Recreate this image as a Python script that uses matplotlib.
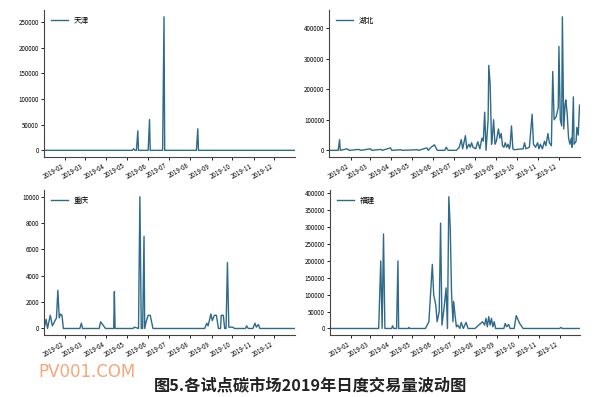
import numpy as np
import pandas as pd
import matplotlib
matplotlib.use('Agg')
import matplotlib.dates as mdates
from matplotlib import pyplot as plt

plt.rcParams['font.family'] = ['Noto Sans CJK SC', 'DejaVu Sans']

# daily volume, key points (zero between them)
tj_dates = ['2019-01-01', '2019-05-09', '2019-05-11', '2019-05-13', '2019-05-15', '2019-05-17',
            '2019-05-18', '2019-06-01', '2019-06-03', '2019-06-04', '2019-06-22', '2019-06-24',
            '2019-06-25', '2019-08-10', '2019-08-12', '2019-08-13', '2019-12-31']
tj_vals = [0, 0, 3000, 0, 0, 38000, 0, 0, 60000, 0, 0, 260000, 0, 0, 42000, 0, 0]

hb_dates = ['2019-01-01', '2019-01-14', '2019-01-16', '2019-01-17', '2019-01-27', '2019-01-30',
            '2019-02-13', '2019-02-16', '2019-03-02', '2019-03-04', '2019-03-17', '2019-03-19',
            '2019-03-31', '2019-04-02', '2019-04-15', '2019-04-17', '2019-05-09', '2019-05-11',
            '2019-05-23', '2019-05-25', '2019-05-29', '2019-06-03', '2019-06-07', '2019-06-18',
            '2019-06-20', '2019-06-23', '2019-07-05', '2019-07-09', '2019-07-12', '2019-07-14',
            '2019-07-18', '2019-07-20', '2019-07-23', '2019-07-25', '2019-07-27', '2019-07-29',
            '2019-08-02', '2019-08-05', '2019-08-08', '2019-08-11', '2019-08-13', '2019-08-15',
            '2019-08-17', '2019-08-20', '2019-08-21', '2019-08-23', '2019-08-25', '2019-08-26',
            '2019-08-28', '2019-08-30', '2019-09-01', '2019-09-04', '2019-09-06', '2019-09-08',
            '2019-09-10', '2019-09-12', '2019-09-14', '2019-09-16', '2019-09-18', '2019-09-20',
            '2019-09-21', '2019-09-23', '2019-09-25', '2019-09-27', '2019-10-10', '2019-10-12',
            '2019-10-14', '2019-10-19', '2019-10-23', '2019-10-25', '2019-10-28', '2019-10-31',
            '2019-11-02', '2019-11-04', '2019-11-07', '2019-11-10', '2019-11-12', '2019-11-15',
            '2019-11-17', '2019-11-20', '2019-11-22', '2019-11-24', '2019-11-27', '2019-11-30',
            '2019-12-01', '2019-12-03', '2019-12-05', '2019-12-06', '2019-12-08', '2019-12-10',
            '2019-12-11', '2019-12-13', '2019-12-15', '2019-12-17', '2019-12-19', '2019-12-20',
            '2019-12-22', '2019-12-23', '2019-12-26', '2019-12-27', '2019-12-29', '2019-12-31']
hb_vals = [0, 0, 35000, 0, 5000, 0,
           3000, 0, 5000, 0, 3000, 0,
           8000, 0, 2000, 0, 2000, 0,
           8000, 0, 10000, 18000, 0, 0,
           10000, 0, 0, 10000, 35000, 5000,
           48000, 5000, 20000, 10000, 25000, 10000,
           5000, 28000, 5000, 40000, 30000, 125000,
           0, 100000, 278000, 215000, 20000, 40000,
           100000, 20000, 30000, 70000, 40000, 55000,
           15000, 10000, 25000, 10000, 20000, 5000,
           15000, 80000, 5000, 2000, 5000, 25000,
           5000, 10000, 118000, 20000, 10000, 25000,
           5000, 20000, 5000, 30000, 15000, 55000,
           25000, 15000, 258000, 100000, 110000, 140000,
           340000, 100000, 80000, 437000, 70000, 150000,
           165000, 120000, 40000, 20000, 40000, 10000,
           175000, 20000, 30000, 75000, 50000, 148000]

cq_dates = ['2019-01-01', '2019-01-04', '2019-01-06', '2019-01-10', '2019-01-13', '2019-01-16',
            '2019-01-19', '2019-01-21', '2019-01-23', '2019-01-25', '2019-01-27', '2019-01-29',
            '2019-02-22', '2019-02-24', '2019-02-26', '2019-03-22', '2019-03-24', '2019-03-27',
            '2019-03-31', '2019-04-12', '2019-04-13', '2019-04-14', '2019-05-10', '2019-05-12',
            '2019-05-18', '2019-05-20', '2019-05-22', '2019-05-24', '2019-05-26', '2019-05-27',
            '2019-05-29', '2019-06-01', '2019-06-04', '2019-06-08', '2019-08-22', '2019-08-25',
            '2019-08-27', '2019-08-31', '2019-09-02', '2019-09-05', '2019-09-08', '2019-09-11',
            '2019-09-14', '2019-09-15', '2019-09-18', '2019-09-20', '2019-09-22', '2019-09-24',
            '2019-09-26', '2019-10-02', '2019-10-04', '2019-10-20', '2019-10-22', '2019-10-24',
            '2019-10-31', '2019-11-03', '2019-11-05', '2019-11-08', '2019-11-10', '2019-12-31']
cq_vals = [0, 700, 0, 1000, 200, 500,
           800, 2900, 800, 1100, 1000, 0,
           0, 400, 0, 0, 500, 300,
           0, 0, 2800, 0, 0, 100,
           0, 10000, 0, 0, 7000, 0,
           500, 1000, 1000, 0, 0, 400,
           200, 1100, 600, 1000, 1000, 0,
           0, 1000, 1000, 0, 0, 5000,
           100, 100, 0, 0, 200, 0,
           0, 400, 100, 300, 0, 0]

fj_dates = ['2019-01-01', '2019-03-13', '2019-03-16', '2019-03-18', '2019-03-20', '2019-03-22',
            '2019-04-01', '2019-04-02', '2019-04-04', '2019-04-08', '2019-04-10', '2019-04-11',
            '2019-04-25', '2019-04-26', '2019-04-27', '2019-05-20', '2019-05-25', '2019-05-30',
            '2019-06-01', '2019-06-04', '2019-06-06', '2019-06-09', '2019-06-11', '2019-06-13',
            '2019-06-16', '2019-06-19', '2019-06-21', '2019-06-23', '2019-06-25', '2019-06-27',
            '2019-06-29', '2019-06-30', '2019-07-02', '2019-07-04', '2019-07-06', '2019-07-09',
            '2019-07-11', '2019-07-14', '2019-07-18', '2019-07-21', '2019-07-31', '2019-08-11',
            '2019-08-14', '2019-08-16', '2019-08-18', '2019-08-20', '2019-08-22', '2019-08-24',
            '2019-08-26', '2019-08-28', '2019-08-30', '2019-09-11', '2019-09-13', '2019-09-15',
            '2019-09-18', '2019-09-20', '2019-09-26', '2019-09-29', '2019-10-04', '2019-10-09',
            '2019-12-01', '2019-12-03', '2019-12-05', '2019-12-31']
fj_vals = [0, 0, 200000, 0, 280000, 0,
           0, 8000, 0, 0, 200000, 0,
           0, 3000, 0, 0, 20000, 190000,
           100000, 70000, 20000, 50000, 312000, 10000,
           60000, 120000, 0, 390000, 300000, 100000,
           20000, 80000, 40000, 5000, 10000, 0,
           18000, 0, 18000, 0, 0, 20000,
           10000, 30000, 5000, 35000, 10000, 30000,
           5000, 20000, 0, 0, 15000, 5000,
           12000, 0, 0, 38000, 15000, 0,
           0, 3000, 0, 0]

panels = [('天津', tj_dates, tj_vals), ('湖北', hb_dates, hb_vals),
          ('重庆', cq_dates, cq_vals), ('福建', fj_dates, fj_vals)]

rects = [[0.072, 0.6045, 0.410, 0.370], [0.538, 0.6045, 0.409, 0.370],
         [0.072, 0.156, 0.410, 0.365], [0.539, 0.156, 0.409, 0.365]]

fig = plt.figure(figsize=(6.12, 3.97), dpi=100)
for (name, d, v), r in zip(panels, rects):
    ax = fig.add_axes(r)
    ax.plot(pd.to_datetime(d), v, color='#2e6a8a', lw=1.0, label=name)
    ax.set_xlim(pd.Timestamp('2019-01-01'), pd.Timestamp('2019-12-31'))
    ax.xaxis.set_major_locator(mdates.MonthLocator(bymonth=range(2, 13)))
    ax.xaxis.set_major_formatter(mdates.DateFormatter('%Y-%m'))
    for lab in ax.get_xticklabels():
        lab.set_rotation(30)
        lab.set_ha('right')
    ax.tick_params(labelsize=4.5, length=2, width=0.6, pad=1.5)
    for s in ['top', 'right']:
        ax.spines[s].set_visible(False)
    for s in ['left', 'bottom']:
        ax.spines[s].set_linewidth(0.8)
        ax.spines[s].set_color('#444444')
    ax.legend(loc='upper left', frameon=False, fontsize=5.5, handlelength=2.2)

fig.text(0.508, 0.03, '图5.各试点碳市场2019年日度交易量波动图', ha='center', va='center',
         fontsize=11.7, fontweight='bold', color='#222222')
fig.text(0.062, 0.063, 'PV001.COM', ha='left', va='center', fontsize=12,
         color='#f5a67a', family='DejaVu Sans')

fig.savefig('out.png', dpi=100)
